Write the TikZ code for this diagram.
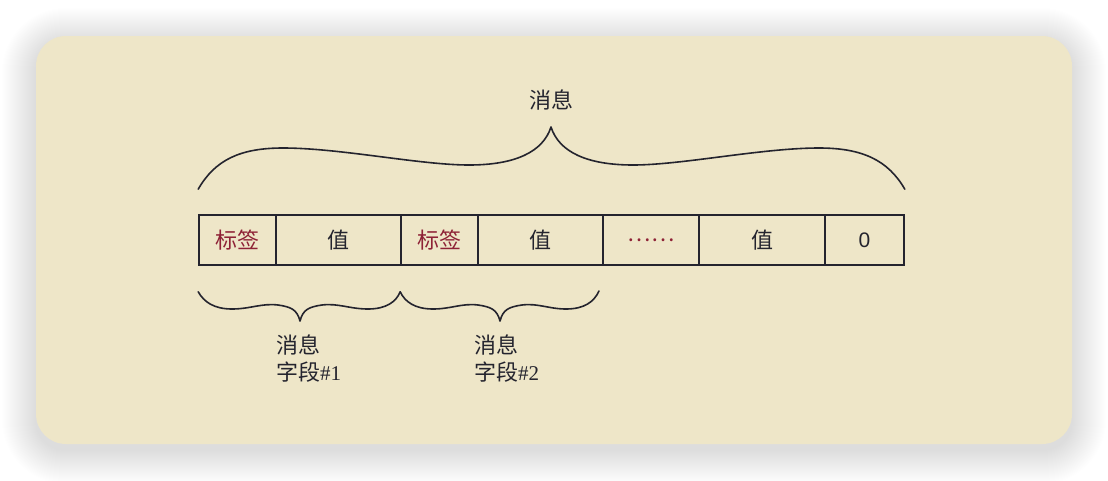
\documentclass[tikz,border=0pt]{standalone}
\usepackage{fontspec}
\setmainfont{Liberation Serif}
\setsansfont{Liberation Sans}
\newfontfamily\cjk{Noto Sans CJK SC}
\definecolor{card}{HTML}{EEE6C8}
\definecolor{ink}{HTML}{24242E}
\definecolor{tagred}{HTML}{8E2236}
\tikzset{
  cell/.style={draw=ink, line width=1.6pt, minimum height=50pt, inner sep=0pt, anchor=center, font=\fontsize{22}{26}\selectfont\cjk, text=ink},
  tagcell/.style={cell, text=tagred},
  brace/.style={draw=ink, line width=1.6pt, line cap=round, line join=round},
  lbl/.style={font=\fontsize{21}{27}\selectfont, text=ink, inner sep=0pt, align=left}
}
\begin{document}
\begin{tikzpicture}[x=1pt,y=-1pt]
\useasboundingbox (0,0) rectangle (1108,480);
% shadow
\foreach \i in {1,...,34}{
  \pgfmathsetmacro{\rr}{30+\i}
  \fill[black, opacity=0.005, rounded corners=\rr pt] ({36-\i},{42-\i}) rectangle ({1072+\i},{450+\i});
}
\fill[card, rounded corners=30pt] (36,36) rectangle (1072,444);
% cells
\node[tagcell, minimum width=77pt] (c1) at (237.5,240) {标签};
\node[cell, minimum width=125pt] (c2) at (338.5,240) {值};
\node[tagcell, minimum width=77pt] (c3) at (439.5,240) {标签};
\node[cell, minimum width=125pt] (c4) at (540.5,240) {值};
\node[tagcell, minimum width=96pt] (c5) at (651,240) {……};
\node[cell, minimum width=126pt] (c6) at (762,240) {值};
\node[cell, minimum width=79pt, font=\fontsize{21}{26}\selectfont\sffamily] (c7) at (864.5,240) {0};
% big brace
\coordinate (bl) at ([yshift=25pt]c1.north west);
\coordinate (br) at ([yshift=25pt]c7.north east);
\coordinate (bt) at (551,127);
\draw[brace] (bl) .. controls (215,160) and (240,148) .. (283,148)
  .. controls (340,148) and (420,165) .. (469,165)
  .. controls (515,165) and (543,152) .. (bt)
  .. controls (559,152) and (587,165) .. (633,165)
  .. controls (682,165) and (762,148) .. (819,148)
  .. controls (862,148) and (888,160) .. (br);
\node[lbl, font=\fontsize{22}{27}\selectfont\cjk] (top) at (551,100) {消息};
% small braces
\coordinate (s1) at ([yshift=-26pt]c1.south west);
\coordinate (s2) at ([yshift=-26pt]c3.south west);
\coordinate (s3) at (599,291);
\coordinate (t1) at (300,321);
\coordinate (t2) at (500,321);
\draw[brace] (s1) .. controls (204,302) and (214,309) .. (232,309)
  .. controls (250,309) and (262,303) .. (278,305)
  .. controls (292,307) and (297,310) .. (t1)
  .. controls (303,310) and (308,307) .. (322,305)
  .. controls (338,303) and (350,309) .. (368,309)
  .. controls (386,309) and (396,302) .. (s2);
\draw[brace] (s2) .. controls (405,302) and (415,309) .. (433,309)
  .. controls (451,309) and (462,303) .. (478,305)
  .. controls (492,307) and (497,310) .. (t2)
  .. controls (503,310) and (508,307) .. (522,305)
  .. controls (538,303) and (549,309) .. (566,309)
  .. controls (584,309) and (594,302) .. (s3);
\node[lbl, anchor=north west] (f1) at (276,335) {{\cjk\fontsize{22}{27}\selectfont 消息}\\{\cjk\fontsize{22}{27}\selectfont 字段}\#1};
\node[lbl, anchor=north west] (f2) at (474,335) {{\cjk\fontsize{22}{27}\selectfont 消息}\\{\cjk\fontsize{22}{27}\selectfont 字段}\#2};
\end{tikzpicture}
\end{document}
